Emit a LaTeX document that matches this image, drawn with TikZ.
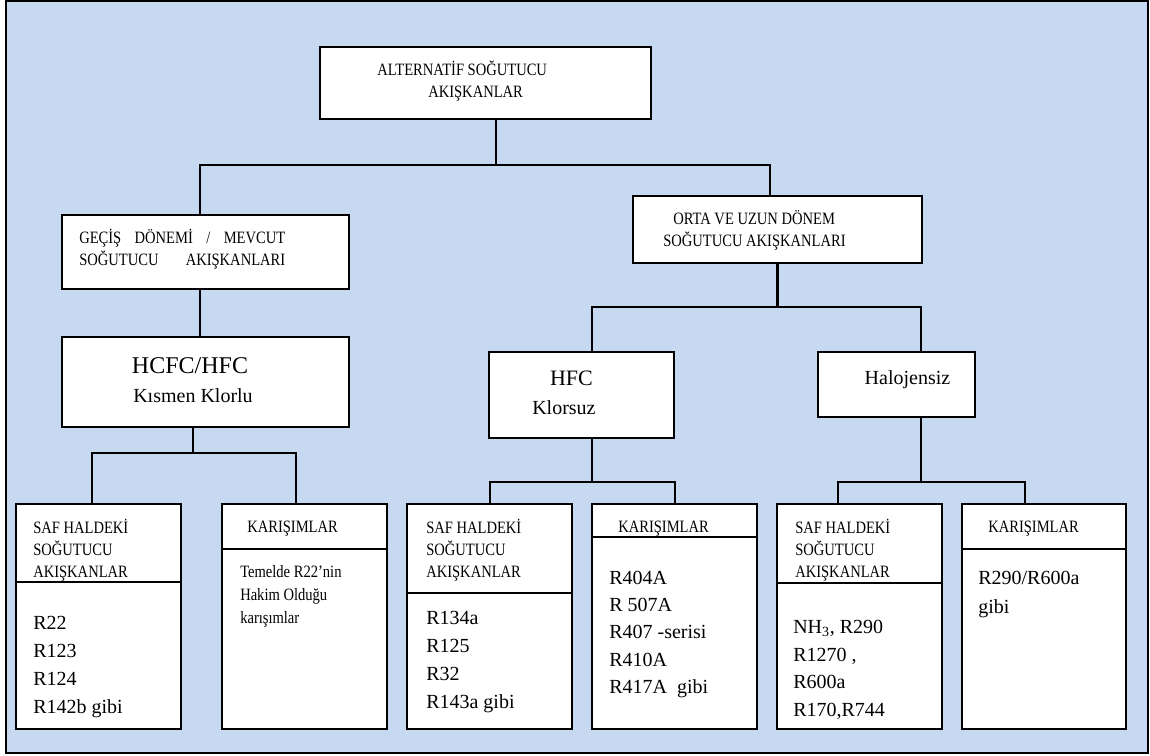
\documentclass[tikz,border=0pt]{standalone}
\usepackage{fontspec}
\setmainfont{Liberation Serif}
\newfontfamily\narrowserif[FakeStretch=0.84]{Liberation Serif}
\usetikzlibrary{fit, calc}
\definecolor{panelBlue}{HTML}{C6D9F0}

\begin{document}
\begin{tikzpicture}[x=0.75pt, y=-0.75pt,
  box/.style={draw, fill=white, line width=1.5pt, inner sep=0pt},
  link/.style={line width=1.5pt},
  hdr/.style={inner sep=0pt, anchor=base west, align=left,
              font=\narrowserif\fontsize{13}{16.5}\selectfont},
  items/.style={inner sep=0pt, anchor=base west, align=left,
                font=\fontsize{15}{21}\selectfont},
  ttl/.style={inner sep=0pt, anchor=base, font=\fontsize{15}{18}\selectfont}]
  \useasboundingbox (0,0) rectangle (1150,756);
  \fill[panelBlue, draw=black, line width=1.5pt] (6,1) rectangle (1148,753);

  % top level
  \node[box, fit={(320,47) (651,119)}] (alt) {};
  \node[hdr] (altA) at (377,75.5) {ALTERNATİF SOĞUTUCU};
  \node[hdr] (altB) at (428,97.5) {AKIŞKANLAR};

  % left branch (base = last line)
  \node[box, fit={(62,215) (349,289)}] (gecis) {};
  \node[hdr] (gecisT) at (79,265.5)
    {\makebox[154.5pt][s]{GEÇİŞ DÖNEMİ / MEVCUT}\\
     \makebox[154.5pt][s]{SOĞUTUCU AKIŞKANLARI}};
  \node[box, fit={(62,337) (349,427)}] (hcfc) {};
  \node[ttl, font=\fontsize{18}{20}\selectfont] (hcfcA) at (190,373) {HCFC/HFC};
  \node[ttl] (hcfcB) at (193,402) {Kısmen Klorlu};

  % right branch
  \node[box, fit={(633,196) (922,263)}] (orta) {};
  \node[hdr] (ortaA) at (673,224.5) {ORTA VE UZUN DÖNEM};
  \node[hdr] (ortaB) at (663,246.5) {SOĞUTUCU AKIŞKANLARI};
  \node[box, fit={(489,352) (674,438)}] (hfc) {};
  \node[ttl, font=\fontsize{16.5}{18}\selectfont] (hfcA) at (571.5,385) {HFC};
  \node[ttl, anchor=base west] (hfcB) at (532,414.5) {Klorsuz};
  \node[box, fit={(818,352) (975,417)}] (halo) {};
  \node[ttl] (haloA) at (907.5,384.5) {Halojensiz};

  % bottom tables
  \node[box, fit={(16,504) (181,582)}] (safLh) {};
  \node[box, fit={(16,582) (181,729)}] (safLb) {};
  \node[box, fit={(222,504) (387,549)}] (karLh) {};
  \node[box, fit={(222,549) (387,729)}] (karLb) {};
  \node[box, fit={(407,504) (572,593)}] (safMh) {};
  \node[box, fit={(407,593) (572,729)}] (safMb) {};
  \node[box, fit={(592,504) (757,537)}] (karMh) {};
  \node[box, fit={(592,537) (757,729)}] (karMb) {};
  \node[box, fit={(777,504) (942,583)}] (safRh) {};
  \node[box, fit={(777,583) (942,729)}] (safRb) {};
  \node[box, fit={(962,504) (1126,549)}] (karRh) {};
  \node[box, fit={(962,549) (1126,729)}] (karRb) {};

  \node[hdr] (safLt) at (33,577.5) {SAF HALDEKİ\\SOĞUTUCU\\AKIŞKANLAR};
  \node[items] (safLi) at (33,713.5) {R22\\R123\\R124\\R142b gibi};
  \node[hdr] (karLt) at (247,532.5) {KARIŞIMLAR};
  \node[hdr, font=\narrowserif\fontsize{13}{17.25}\selectfont] (karLi) at (240,623.5)
    {Temelde R22’nin\\Hakim Olduğu\\karışımlar};
  \node[hdr] (safMt) at (426,577.5) {SAF HALDEKİ\\SOĞUTUCU\\AKIŞKANLAR};
  \node[items] (safMi) at (426,708.5) {R134a\\R125\\R32\\R143a gibi};
  \node[hdr] (karMt) at (618,532.5) {KARIŞIMLAR};
  \node[items, font=\fontsize{15}{20.4}\selectfont] (karMi) at (609,693.3)
    {R404A\\R 507A\\R407 -serisi\\R410A\\R417A\ \ gibi};
  \node[hdr] (safRt) at (795,577.5) {SAF HALDEKİ\\SOĞUTUCU\\AKIŞKANLAR};
  \node[items, font=\fontsize{15}{20.8}\selectfont] (safRi) at (793,716.7)
    {NH\textsubscript{3}, R290\\R1270 ,\\R600a\\R170,R744};
  \node[hdr] (karRt) at (988,532.5) {KARIŞIMLAR};
  \node[items, font=\fontsize{15}{21.8}\selectfont] (karRi) at (978,613.6)
    {R290/R600a\\gibi};

  % connectors
  \coordinate (jTop) at (496,165);
  \coordinate (jTopL) at (200,165);
  \coordinate (jTopR) at (770,165);
  \draw[link] (alt.south -| jTop) -- (jTop);
  \draw[link] (gecis.north -| jTopL) -- (jTopL) -- (jTopR) -- (orta.north -| jTopR);
  \draw[link] ($(gecis.south)+(-6,0)$) -- ($(hcfc.north)+(-6,0)$);

  \coordinate (jL) at (193,453);
  \coordinate (jL1) at (92,453);
  \coordinate (jL2) at (296,453);
  \draw[link] (hcfc.south -| jL) -- (jL);
  \draw[link] (safLh.north -| jL1) -- (jL1) -- (jL2) -- (karLh.north -| jL2);

  \coordinate (jM1) at (592,307);
  \coordinate (jM2) at (921,307);
  \draw[link, line width=2.2pt] (orta.south) -- (orta.south |- jM1);
  \draw[link] (hfc.north -| jM1) -- (jM1) -- (jM2) -- (halo.north -| jM2);

  \coordinate (jH) at (592,482);
  \draw[link] (hfc.south -| jH) -- (jH);
  \draw[link] (safMh.north) |- (jH) -| (karMh.north);

  \coordinate (jR) at (921,482);
  \coordinate (jR1) at (838,482);
  \coordinate (jR2) at (1025,482);
  \draw[link] (halo.south -| jR) -- (jR);
  \draw[link] (safRh.north -| jR1) -- (jR1) -- (jR2) -- (karRh.north -| jR2);
\end{tikzpicture}
\end{document}
